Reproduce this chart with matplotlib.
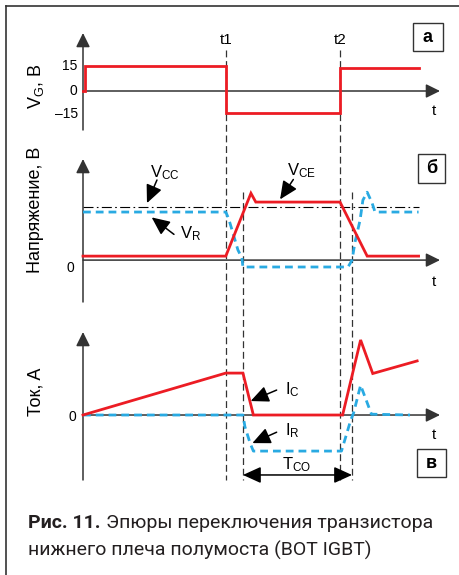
import matplotlib
matplotlib.use('Agg')
import matplotlib.pyplot as plt
from matplotlib.lines import Line2D
from matplotlib.patches import Rectangle
from matplotlib import transforms

plt.rcParams['font.family'] = ['Liberation Sans', 'DejaVu Sans']
plt.rcParams['mathtext.default'] = 'regular'

W, H = 460, 575
RED = '#ec1c24'
BLUE = '#29aae2'
INK = '#333333'

# switching instants
t1, t2 = 10.0, 18.0
t1r, t2r = 11.2, 18.84
t_axis = 25.0

# gate voltage, V
vg_t = [0, 0.15, 0.15, t1, t1, t2, t2, 23.5]
vg_v = [0, 0, 15, 15, -13, -13, 14, 14]
vg_tick_pos = [15, 0, -14]
vg_tick_lab = ['15', '0', '\u201315']

# voltages, normalised to Vcc
vcc = 1.0
vce_t = [0, 10, 11.76, 12.1, 18, 19.9, 23.5]
vce_v = [0.075, 0.075, 1.26, 1.094, 1.094, 0.075, 0.075]
vr_t = [0, 10, 10.2, 10.5, 10.85, 11.13, 11.2, 18.56, 18.84, 19.05, 19.4, 19.6, 19.9, 20.24, 20.45, 23.5]
vr_v = [0.906, 0.906, 0.78, 0.51, 0.19, 0.04, -0.13, -0.13, 0, 0.34, 0.75, 1.13, 1.28, 1.08, 0.906, 0.906]

# currents, normalised
ic_t = [0, 10, 11.2, 11.93, 18.18, 19.44, 20.29, 23.4]
ic_v = [0, 1, 1, 0, 0, 1.79, 0.99, 1.29]
ir_t = [0, 11.2, 11.34, 11.7, 11.93, 18.1, 18.4, 18.75, 18.95, 19.44, 20.2, 22.9]
ir_v = [0, 0, -0.28, -0.67, -0.86, -0.86, -0.52, -0.12, 0.05, 0.71, 0.02, 0]

fig = plt.figure(figsize=(W / 100, H / 100), dpi=100)


def px_axes(x0, y0, x1, y1, ylim):
    ax = fig.add_axes([x0 / W, 1 - y1 / H, (x1 - x0) / W, (y1 - y0) / H])
    ax.set_xlim(0, t_axis)
    ax.set_ylim(*ylim)
    ax.axis('off')
    head = '-|>,head_length=0.85,head_width=0.42'
    ax.annotate('', xy=(t_axis, 0), xytext=(0, 0),
                arrowprops=dict(arrowstyle=head, mutation_scale=10, color=INK,
                                lw=1.1, shrinkA=0, shrinkB=0))
    ax.annotate('', xy=(0, ylim[1]), xytext=(0, ylim[0]),
                arrowprops=dict(arrowstyle=head, mutation_scale=10, color=INK,
                                lw=1.1, shrinkA=0, shrinkB=0))
    return ax


def ftxt(x, y, s, **kw):
    fig.text(x / W, 1 - y / H, s, **kw)


def pointer(ax, head, tail, style='-|>'):
    ax.annotate('', xy=head, xytext=tail,
                arrowprops=dict(arrowstyle=style + ',head_length=1.1,head_width=0.5',
                                mutation_scale=10, color='black', lw=1.1,
                                shrinkA=0, shrinkB=0))


red_kw = dict(color=RED, lw=2.0, solid_joinstyle='miter', clip_on=False, zorder=4)
blue_kw = dict(color=BLUE, lw=2.0, ls=(0, (2.8, 1.8)), clip_on=False, zorder=3)

# panel a
axA = px_axes(83, 33, 440, 130, (-23.4, 34.8))
axA.plot(vg_t, vg_v, **red_kw)
for p, lab in zip(vg_tick_pos, vg_tick_lab):
    axA.text(-0.37, p, lab, ha='right', va='center', fontsize=10)
axA.text(24.58, -12, 't', ha='center', va='center', fontsize=11)
axA.text(t1, 30.9, 't1', ha='center', va='center', fontsize=11)
axA.text(t2, 30.9, 't2', ha='center', va='center', fontsize=11)

# panel b
axB = px_axes(83, 159, 440, 302, (-0.79, 1.906))
axB.plot([0, 23.5], [vcc, vcc], color='black', lw=0.8, ls=(0, (9, 3, 1.5, 3)), zorder=2)
axB.plot(vr_t, vr_v, **blue_kw)
axB.plot(vce_t, vce_v, **red_kw)
axB.text(-0.63, -0.15, '0', ha='right', va='center', fontsize=10)
axB.text(24.58, -0.41, 't', ha='center', va='center', fontsize=11)
axB.text(5.74, 1.64, 'V$_{CC}$', ha='center', va='center', fontsize=12)
pointer(axB, (4.48, 1.075), (5.18, 1.51))
axB.text(15.3, 1.68, 'V$_{CE}$', ha='center', va='center', fontsize=12)
pointer(axB, (13.8, 1.145), (14.73, 1.52))
axB.text(7.56, 0.49, 'V$_{R}$', ha='center', va='center', fontsize=12)
pointer(axB, (4.81, 0.805), (6.37, 0.485))

# panel c
axC = px_axes(83, 332, 440, 480, (-1.55, 1.98))
axC.plot(ir_t, ir_v, **blue_kw)
axC.plot(ic_t, ic_v, **red_kw)
axC.text(-0.5, -0.05, '0', ha='right', va='center', fontsize=10)
axC.text(24.58, -0.48, 't', ha='center', va='center', fontsize=11)
axC.text(14.66, 0.595, 'I$_{C}$', ha='center', va='center', fontsize=12)
pointer(axC, (11.74, 0.333), (13.56, 0.595))
axC.text(14.66, -0.38, 'I$_{R}$', ha='center', va='center', fontsize=12)
pointer(axC, (11.86, -0.67), (13.56, -0.41))
axC.text(14.96, -1.19, 'T$_{CO}$', ha='center', va='center', fontsize=12)
pointer(axC, (t2r, -1.43), (t1r, -1.43), style='<|-|>')

# switching instants through all panels
trans = transforms.blended_transform_factory(axC.transData, fig.transFigure)
for t, ytop in [(t1, 50), (t2, 50), (t1r, 192), (t2r, 192)]:
    fig.add_artist(Line2D([t, t], [1 - ytop / H, 1 - 480 / H], transform=trans,
                          color=INK, lw=0.9, ls=(0, (5.5, 3)), zorder=-1))

# y labels
ftxt(36, 86, 'V$_{G}$, B', rotation=90, ha='center', va='center', fontsize=13)
ftxt(36, 210, 'Напряжение, B', rotation=90, ha='center', va='center', fontsize=13)
ftxt(36, 392, 'Ток, A', rotation=90, ha='center', va='center', fontsize=13)

# panel letters
for x0, y0, x1, y1, s in [(413, 23, 443, 51, 'а'), (418, 154, 445, 183, 'б'),
                          (417, 449, 446, 477, 'в')]:
    fig.add_artist(Rectangle((x0 / W, 1 - y1 / H), (x1 - x0) / W, (y1 - y0) / H,
                             transform=fig.transFigure, fill=False, ec=INK, lw=1.0))
    ftxt((x0 + x1) / 2, (y0 + y1) / 2, s, ha='center', va='center',
         fontsize=13, fontweight='bold')

# frame
fig.add_artist(Line2D([6 / W, 1], [1 - 6 / H, 1 - 6 / H], transform=fig.transFigure,
                      color=INK, lw=1.2))
fig.add_artist(Line2D([6 / W, 6 / W], [0, 1 - 6 / H], transform=fig.transFigure,
                      color=INK, lw=1.2))

# caption
cap_font = ['Roboto', 'DejaVu Sans']
b = fig.text(28 / W, 1 - 528 / H, 'Рис. 11.', family=cap_font, fontsize=14,
             fontweight='bold', va='baseline', color='#231f20')
fig.canvas.draw()
bb = b.get_window_extent()
fig.text((bb.x1 + 6) / W, 1 - 528 / H, 'Эпюры переключения транзистора',
         family=cap_font, fontsize=14, va='baseline', color='#231f20')
fig.text(28 / W, 1 - 556 / H, 'нижнего плеча полумоста (BOT IGBT)',
         family=cap_font, fontsize=14, va='baseline', color='#231f20')

fig.savefig('out.png', dpi=100)
